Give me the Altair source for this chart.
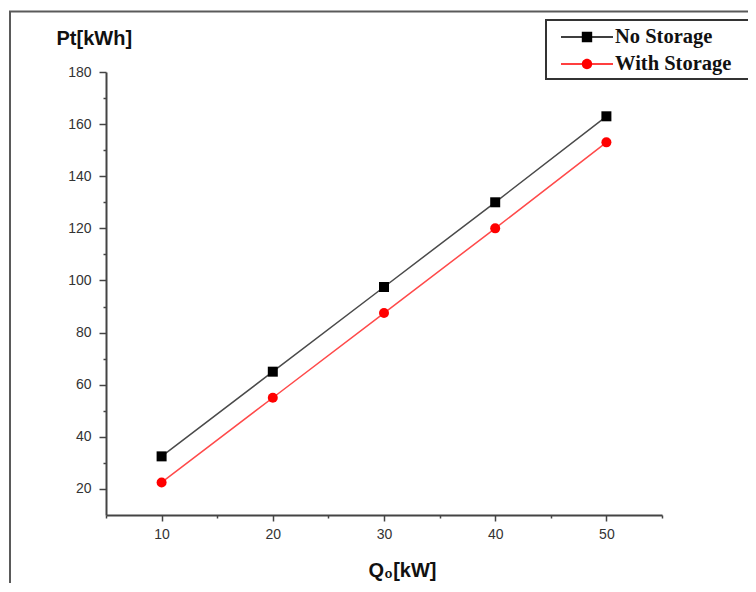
import altair as alt
import pandas as pd

# ---- data ----
q0 = [10, 20, 30, 40, 50]
no_storage = [32.5, 65, 97.5, 130, 163]
with_storage = [22.5, 55, 87.5, 120, 153]
series = ["No Storage", "With Storage"]

x_major = [10, 20, 30, 40, 50]
x_minor = [5, 15, 25, 35, 45, 55]
y_major = [20, 40, 60, 80, 100, 120, 140, 160, 180]
y_minor = [30, 50, 70, 90, 110, 130, 150, 170]

line_colors = ["#4a4a4a", "#ff4a4a"]
marker_colors = ["#000000", "#ff0000"]

df = pd.DataFrame({
    "q": q0 + q0,
    "p": no_storage + with_storage,
    "s": [series[0]] * len(q0) + [series[1]] * len(q0),
})

W, H = 556, 443
xs = alt.Scale(domain=[5, 55], nice=False, zero=False)
ys = alt.Scale(domain=[10, 180], nice=False, zero=False)

AX = "#444444"
LBL = dict(labelFont="Liberation Sans", labelFontSize=14, labelColor="#333333")

x_axis = alt.Axis(values=x_major, orient="bottom", grid=False, domainColor=AX, domainWidth=2,
                  tickColor=AX, tickWidth=1.5, tickSize=6, labelPadding=6, format="d",
                  title="Q₀[kW]", titleFont="Liberation Sans", titleFontSize=20,
                  titleFontWeight="bold", titleColor="#111111", titleX=296, titleY=55,
                  titleAlign="center", titleBaseline="middle", **LBL)
y_axis = alt.Axis(values=y_major, orient="left", grid=False, domainColor=AX, domainWidth=2,
                  tickColor=AX, tickWidth=1.5, tickSize=7, labelPadding=8, format="d",
                  title="Pt[kWh]", titleFont="Liberation Sans", titleFontSize=20,
                  titleFontWeight="bold", titleColor="#111111", titleAngle=0,
                  titleX=-50, titleY=-34, titleAlign="left", titleBaseline="middle", **LBL)

x_minor_axis = alt.Axis(values=x_minor, orient="bottom", grid=False, domain=False, labels=False,
                        tickColor=AX, tickWidth=1.5, tickSize=3, title=None)
y_minor_axis = alt.Axis(values=y_minor, orient="left", grid=False, domain=False, labels=False,
                        tickColor=AX, tickWidth=1.5, tickSize=3, title=None)

border = alt.Chart(pd.DataFrame({"k": [0]})).mark_rect(
    fillOpacity=0, stroke="#5a5a5a", strokeWidth=2
).encode(x=alt.value(-96), x2=alt.value(1000), y=alt.value(-60.5), y2=alt.value(1000))

lines = alt.Chart(df).mark_line(strokeWidth=1.5).encode(
    x=alt.X("q:Q", scale=xs, axis=x_axis),
    y=alt.Y("p:Q", scale=ys, axis=y_axis),
    color=alt.Color("s:N", scale=alt.Scale(domain=series, range=line_colors), legend=None),
    detail="s:N",
)

points = alt.Chart(df).mark_point(filled=True, opacity=1, size=100).encode(
    x=alt.X("q:Q", scale=xs, axis=None),
    y=alt.Y("p:Q", scale=ys, axis=None),
    color=alt.Color("s:N", scale=alt.Scale(domain=series, range=marker_colors), legend=None),
    shape=alt.Shape("s:N", scale=alt.Scale(domain=series, range=["square", "circle"]), legend=None),
)

minor = alt.Chart(df).mark_point(opacity=0, size=0).encode(
    x=alt.X("q:Q", scale=xs, axis=x_minor_axis),
    y=alt.Y("p:Q", scale=ys, axis=y_minor_axis),
)

# legend symbols: line segment + marker as one custom path (unit = 13px)
sym_square = "M-2,-0.06H2V0.06H-2Z M-0.4,-0.4H0.4V0.4H-0.4Z"
sym_circle = "M-2,-0.06H2V0.06H-2Z M-0.4,0A0.4,0.4 0 1,1 0.4,0A0.4,0.4 0 1,1 -0.4,0Z"

legend_layer = alt.Chart(df).transform_filter("false").mark_point(filled=True, opacity=1).encode(
    color=alt.Color("s:N", scale=alt.Scale(domain=series, range=marker_colors),
                    legend=alt.Legend(title="M", titleOrient="right", titleOpacity=0,
                                      titleFontSize=18, titlePadding=0,
                                      orient="none", legendX=440, legendY=-52,
                                      symbolSize=676, symbolStrokeWidth=0, symbolOffset=24,
                                      labelOffset=15, rowPadding=3, padding=4,
                                      labelFont="Liberation Serif", labelFontSize=20.5,
                                      labelFontWeight="bold", labelColor="#111111",
                                      strokeColor="#333333", labelLimit=400)),
    shape=alt.Shape("s:N", scale=alt.Scale(domain=series, range=[sym_square, sym_circle])),
)

chart = alt.layer(border, lines, points, minor, legend_layer).resolve_axis(
    x="independent", y="independent"
).resolve_scale(
    color="independent", shape="independent"
).properties(
    width=W, height=H,
    autosize=alt.AutoSizeParams(type="none"),
    padding={"left": 98, "top": 64, "right": 86, "bottom": 68},
    background="white",
).configure_view(stroke=None).configure_legend(strokeWidth=2)

chart.save("out.html", embed_options={"renderer": "svg", "actions": False})
